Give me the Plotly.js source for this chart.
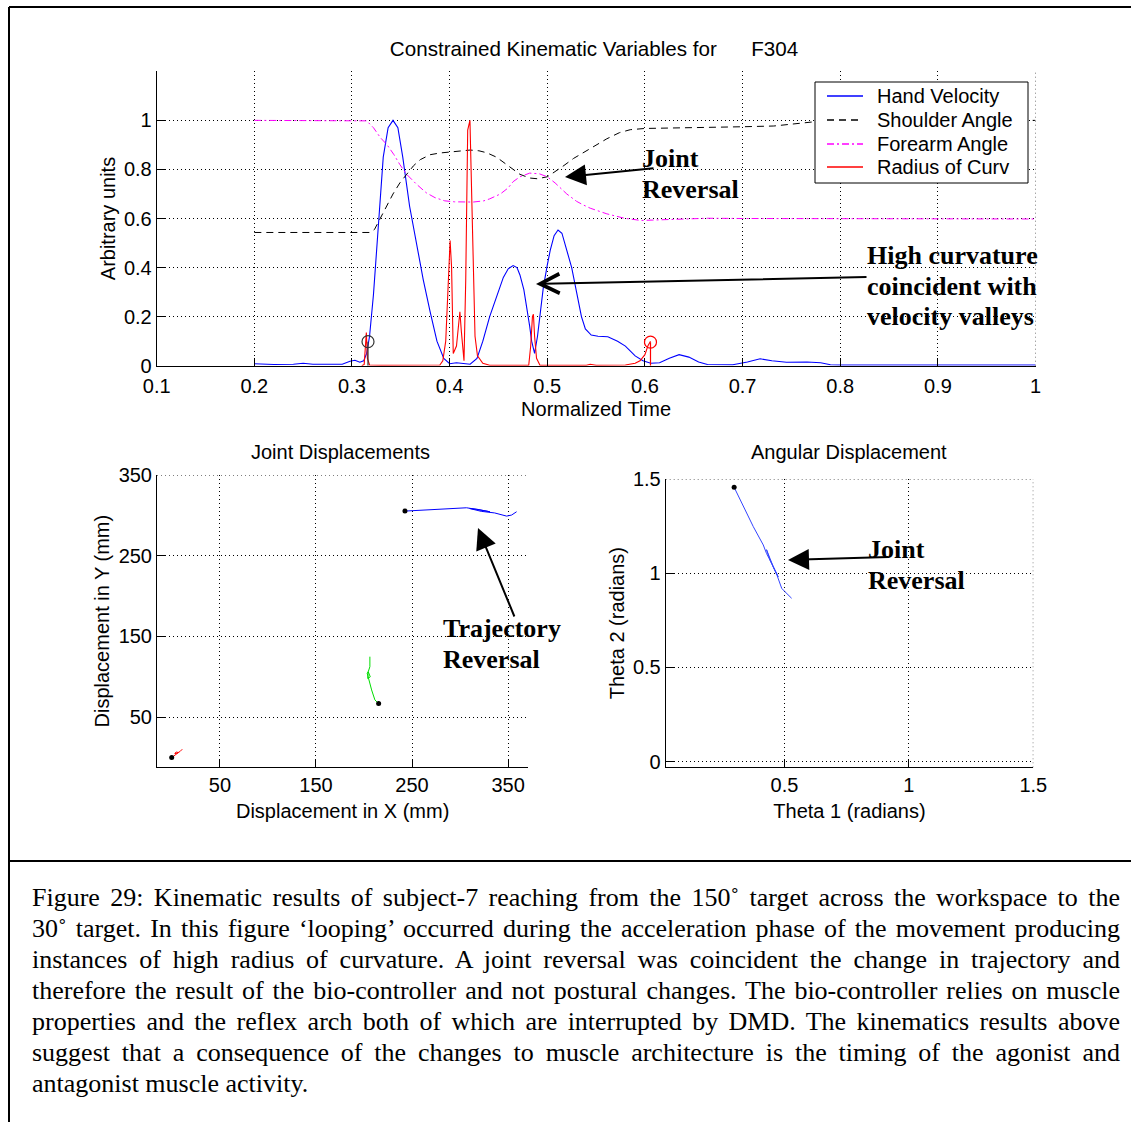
<!DOCTYPE html>
<html>
<head>
<meta charset="utf-8">
<script src="https://cdn.plot.ly/plotly-3.0.1.min.js"></script>
<style>
  html, body { margin: 0; padding: 0; background: #fff; }
  #wrap { position: relative; width: 1131px; height: 1122px; overflow: hidden; }
  #chart { position: absolute; left: 0; top: 0; width: 1131px; height: 1122px; }
  #caption { position: absolute; left: 32px; top: 882px; width: 1088px;
             font-family: "Liberation Serif", "Times New Roman", serif; font-size: 26px;
             line-height: 31px; color: #000; }
  #caption div { text-align: justify; text-align-last: justify; white-space: normal; }
  #caption div.last { text-align-last: left; }
</style>
</head>
<body>
<div id="wrap">
  <div id="chart"></div>
  <div id="caption"></div>
</div>
<script>
// ---------- Top panel: Constrained Kinematic Variables ----------
const velT = [0.2,0.22,0.24,0.25,0.26,0.28,0.29,0.298,0.303,0.308,0.312,0.315,0.318,0.322,0.327,0.332,0.337,0.342,0.347,0.352,0.359,0.366,0.373,0.38,0.387,0.394,0.4,0.407,0.414,0.421,0.428,0.434,0.441,0.448,0.455,0.46,0.465,0.469,0.472,0.476,0.479,0.482,0.484,0.487,0.49,0.493,0.496,0.5,0.503,0.507,0.511,0.515,0.518,0.522,0.525,0.53,0.535,0.539,0.545,0.552,0.562,0.572,0.58,0.59,0.598,0.606,0.615,0.625,0.635,0.645,0.655,0.664,0.69,0.705,0.718,0.73,0.745,0.766,0.78,0.79,0.8,0.9,1.0];
const velV = [0.008,0.005,0.006,0.01,0.006,0.004,0.006,0.018,0.022,0.014,0.02,0.05,0.12,0.29,0.55,0.85,0.97,1.0,0.97,0.85,0.65,0.5,0.35,0.22,0.1,0.03,0.008,0.012,0.01,0.006,0.03,0.1,0.2,0.28,0.36,0.395,0.408,0.4,0.37,0.31,0.24,0.16,0.1,0.05,0.12,0.22,0.32,0.41,0.47,0.53,0.553,0.54,0.5,0.45,0.4,0.3,0.2,0.15,0.125,0.12,0.118,0.1,0.08,0.04,0.02,0.01,0.012,0.03,0.045,0.035,0.015,0.005,0.004,0.015,0.028,0.02,0.014,0.015,0.012,0.004,0.003,0.003,0.003];

const shT = [0.2,0.318,0.323,0.329,0.335,0.342,0.349,0.356,0.363,0.37,0.38,0.39,0.4,0.41,0.421,0.43,0.438,0.448,0.458,0.465,0.472,0.482,0.49,0.5,0.506,0.515,0.527,0.544,0.561,0.574,0.585,0.6,0.63,0.664,0.7,0.732,0.75,0.766,0.78,0.8,1.0];
const shV = [0.543,0.543,0.555,0.6,0.65,0.7,0.745,0.78,0.815,0.84,0.86,0.867,0.87,0.875,0.879,0.876,0.868,0.85,0.82,0.8,0.78,0.765,0.762,0.77,0.785,0.81,0.845,0.885,0.925,0.95,0.962,0.967,0.97,0.973,0.974,0.977,0.985,0.993,0.997,1.0,1.0];

const faT = [0.2,0.31,0.315,0.322,0.329,0.336,0.343,0.349,0.356,0.366,0.376,0.385,0.395,0.405,0.424,0.435,0.441,0.452,0.46,0.465,0.472,0.482,0.492,0.5,0.508,0.52,0.53,0.537,0.544,0.561,0.579,0.596,0.613,0.63,0.664,0.7,0.8,0.9,1.0];
const faV = [1.0,1.0,0.998,0.97,0.93,0.9,0.86,0.82,0.78,0.74,0.705,0.685,0.672,0.668,0.667,0.672,0.68,0.7,0.725,0.75,0.77,0.785,0.782,0.77,0.745,0.7,0.67,0.655,0.642,0.619,0.601,0.592,0.594,0.597,0.601,0.6,0.6,0.6,0.598];

const rcT = [0.31,0.3125,0.3147,0.3158,0.318,0.33,0.39,0.393,0.396,0.3985,0.4005,0.402,0.403,0.4037,0.407,0.4095,0.4105,0.412,0.4147,0.4165,0.4185,0.4208,0.4225,0.424,0.426,0.4285,0.434,0.441,0.481,0.483,0.4848,0.4858,0.487,0.489,0.4925,0.54,0.544,0.55,0.58,0.59,0.595,0.6,0.603,0.6057];
const rcV = [0.0,0.005,0.135,0.03,0.003,0.002,0.003,0.02,0.1,0.3,0.51,0.4,0.15,0.05,0.08,0.2,0.22,0.14,0.02,0.35,0.96,1.0,0.7,0.35,0.12,0.04,0.01,0.002,0.002,0.08,0.2,0.21,0.12,0.03,0.002,0.002,0.006,0.002,0.003,0.01,0.02,0.045,0.08,0.1];

const stemT = [0.3164, 0.6057];
const stemV = [0.098, 0.096];
const stemColors = ['#333333', '#ff0000'];

const seriesNames = ['Hand Velocity', 'Shoulder Angle', 'Forearm Angle', 'Radius of Curv'];
const seriesColors = ['#0000ff', '#000000', '#ff00ff', '#ff0000'];
const seriesDash = ['solid', '7px,5px', '7px,3px,2px,3px', 'solid'];

// ---------- Bottom-left panel: Joint Displacements ----------
const blueX = [242.6,258.1,278.9,306.7,317.2,324.0,331.0,318.0,310.0,322.0,336.0,338.0,348.4,353.6,358.8];
const blueY = [305.3,306.4,307.6,309.4,307.4,305.7,304.5,307.5,308.5,305.0,303.0,302.5,299.1,300.4,304.5];
const greenX = [215.2,211.3,207.9,205.4,203.3,204.4,206.5,203.8,204.4,206.1,206.1];
const greenY = [66.9,71.5,83.8,96.2,104.5,106.4,100.0,98.0,106.4,112.6,125.0];
const redX = [-0.2,3.2,6.7,4.5,3.0,5.5,8.4,10.8];
const redY = [0.0,3.3,6.2,7.0,5.0,5.5,7.5,10.4];
const startX = [242.6, 215.2, -0.2];
const startY = [305.3, 66.9, 0.0];

// ---------- Bottom-right panel: Angular Displacement ----------
const theta1 = [0.298,0.335,0.375,0.415,0.428,0.449,0.475,0.455,0.428,0.442,0.47,0.489,0.502,0.529];
const theta2 = [1.456,1.353,1.247,1.15,1.105,1.052,0.981,1.035,1.125,1.07,0.99,0.92,0.902,0.867];
const thetaStart = [0.298, 1.456];

// ---------- Caption ----------
const captionLines = [
  'Figure 29: Kinematic results of subject-7 reaching from the 150˚ target across the workspace to the',
  '30˚ target. In this figure ‘looping’ occurred during the acceleration phase of the movement producing',
  'instances of high radius of curvature. A joint reversal was coincident the change in trajectory and',
  'therefore the result of the bio-controller and not postural changes. The bio-controller relies on muscle',
  'properties and the reflex arch both of which are interrupted by DMD. The kinematics results above',
  'suggest that a consequence of the changes to muscle architecture is the timing of the agonist and',
  'antagonist muscle activity.'
];

const W = 1131, H = 1122;
const px = v => v / W;
const py = v => 1 - v / H;
const SANS = 'Liberation Sans, Arial, sans-serif';
const SERIF = 'Liberation Serif, Times New Roman, serif';

const traces = [];
[[velT, velV], [shT, shV], [faT, faV], [rcT, rcV]].forEach((s, i) => {
  traces.push({x: s[0], y: s[1], name: seriesNames[i], mode: 'lines', showlegend: false,
               line: {color: seriesColors[i], width: i === 1 || i === 2 ? 1 : 1.1, dash: seriesDash[i]},
               xaxis: 'x', yaxis: 'y'});
});
stemT.forEach((t, i) => {
  traces.push({x: [t, t], y: [0, stemV[i]], mode: 'lines', line: {color: stemColors[i], width: 1.2},
               showlegend: false, hoverinfo: 'skip', xaxis: 'x', yaxis: 'y'});
  traces.push({x: [t], y: [stemV[i]], mode: 'markers',
               marker: {symbol: 'circle-open', size: 12, color: stemColors[i], line: {width: 1.2, color: stemColors[i]}},
               showlegend: false, xaxis: 'x', yaxis: 'y'});
});
traces.push(
  {x: blueX, y: blueY, mode: 'lines', line: {color: '#0000ff', width: 1}, showlegend: false, xaxis: 'x2', yaxis: 'y2'},
  {x: greenX, y: greenY, mode: 'lines', line: {color: '#00dd00', width: 1}, showlegend: false, xaxis: 'x2', yaxis: 'y2'},
  {x: redX, y: redY, mode: 'lines', line: {color: '#ff0000', width: 1}, showlegend: false, xaxis: 'x2', yaxis: 'y2'},
  {x: startX, y: startY, mode: 'markers', marker: {color: '#000', size: 5}, showlegend: false, xaxis: 'x2', yaxis: 'y2'},
  {x: theta1, y: theta2, mode: 'lines', line: {color: '#3344ff', width: 1}, showlegend: false, xaxis: 'x3', yaxis: 'y3'},
  {x: [thetaStart[0]], y: [thetaStart[1]], mode: 'markers', marker: {color: '#000', size: 5}, showlegend: false, xaxis: 'x3', yaxis: 'y3'}
);

const GRIDDASH = '1px,3px';
const axBase = {
  showgrid: true, gridcolor: '#000', gridwidth: 1, griddash: GRIDDASH,
  showline: true, linecolor: '#000', linewidth: 1, mirror: false,
  ticks: 'inside', ticklen: 8, tickcolor: '#000', tickwidth: 1,
  zeroline: false, tickfont: {family: SANS, size: 20, color: '#000'},
  tickmode: 'array', fixedrange: true
};
const titleFont = {family: SANS, size: 20, color: '#000'};

const layout = {
  width: W, height: H,
  margin: {l: 0, r: 0, t: 0, b: 0},
  paper_bgcolor: '#fff', plot_bgcolor: 'rgba(0,0,0,0)',
  font: {family: SANS, size: 20, color: '#000'},
  title: {text: 'Constrained Kinematic Variables for\u00a0\u00a0\u00a0\u00a0\u00a0\u00a0F304',
          x: px(594), xref: 'paper', xanchor: 'center', y: py(49), yref: 'paper', yanchor: 'middle',
          font: {family: SANS, size: 20.6, color: '#000'}},
  showlegend: false,
  xaxis: Object.assign({}, axBase, {domain: [px(156.7), px(1035.5)], range: [0.1, 1], anchor: 'y',
           tickvals: [0.1,0.2,0.3,0.4,0.5,0.6,0.7,0.8,0.9,1.0], ticktext: ['0.1','0.2','0.3','0.4','0.5','0.6','0.7','0.8','0.9','1'],
           ticklabelstandoff: 2,
           title: {text: 'Normalized Time', font: titleFont, standoff: 6}}),
  yaxis: Object.assign({}, axBase, {domain: [py(365.7), py(71.3)], range: [0, 1.2], anchor: 'x',
           tickvals: [0,0.2,0.4,0.6,0.8,1.0], ticktext: ['0','0.2','0.4','0.6','0.8','1'],
           title: {text: 'Arbitrary units', font: titleFont, standoff: 2}}),
  xaxis2: Object.assign({}, axBase, {domain: [px(157), px(528.3)], range: [-15.5, 371], anchor: 'y2',
           tickvals: [50,150,250,350], title: {text: 'Displacement in X (mm)', font: titleFont, standoff: 8}}),
  yaxis2: Object.assign({}, axBase, {domain: [py(767.3), py(475)], range: [-12, 350], anchor: 'x2',
           tickvals: [50,150,250,350], title: {text: 'Displacement in Y (mm)', font: titleFont, standoff: 3}}),
  xaxis3: Object.assign({}, axBase, {domain: [px(665.7), px(1033.3)], range: [0.023, 1.5], anchor: 'y3',
           tickvals: [0.5,1,1.5], ticktext: ['0.5','1','1.5'], title: {text: 'Theta 1 (radians)', font: titleFont, standoff: 8}}),
  yaxis3: Object.assign({}, axBase, {domain: [py(767.3), py(479)], range: [-0.03, 1.5], anchor: 'x3',
           tickvals: [0,0.5,1,1.5], ticktext: ['0','0.5','1','1.5'], title: {text: 'Theta 2 (radians)', font: titleFont, standoff: 2}}),
  shapes: [
    // page frame
    {type: 'line', xref: 'paper', yref: 'paper', x0: px(9), x1: px(9), y0: py(7), y1: 0, line: {color: '#000', width: 2}},
    {type: 'line', xref: 'paper', yref: 'paper', x0: px(9), x1: 1, y0: py(7), y1: py(7), line: {color: '#000', width: 2}},
    {type: 'line', xref: 'paper', yref: 'paper', x0: px(9), x1: 1, y0: py(861), y1: py(861), line: {color: '#000', width: 2}},
    // grid lines lying on the range edges
    {type: 'line', xref: 'x', yref: 'y domain', x0: 1, x1: 1, y0: 0, y1: 1, layer: 'below', line: {color: '#000', width: 1, dash: GRIDDASH}},
    {type: 'line', xref: 'x2 domain', yref: 'y2', x0: 0, x1: 1, y0: 350, y1: 350, layer: 'below', line: {color: '#000', width: 1, dash: GRIDDASH}},
    {type: 'line', xref: 'x3', yref: 'y3 domain', x0: 1.5, x1: 1.5, y0: 0, y1: 1, layer: 'below', line: {color: '#000', width: 1, dash: GRIDDASH}},
    {type: 'line', xref: 'x3 domain', yref: 'y3', x0: 0, x1: 1, y0: 1.5, y1: 1.5, layer: 'below', line: {color: '#000', width: 1, dash: GRIDDASH}},
    // legend box
    {type: 'rect', xref: 'paper', yref: 'paper', x0: px(815), x1: px(1028), y0: py(82), y1: py(183),
     fillcolor: '#fff', line: {color: '#000', width: 1}}
  ],
  annotations: []
};

const A = layout.annotations;
// legend entries (drawn from the series arrays)
const legendRows = [96, 120, 144, 167];
seriesNames.forEach((n, i) => {
  const sh = {type: 'line', xref: 'paper', yref: 'paper', x0: px(827), x1: px(863), y0: py(legendRows[i]), y1: py(legendRows[i]),
              line: {color: seriesColors[i], width: 1.5}};
  if (seriesDash[i] !== 'solid') sh.line.dash = seriesDash[i];
  layout.shapes.push(sh);
  A.push({text: n, xref: 'paper', yref: 'paper', x: px(875), y: py(legendRows[i]), xanchor: 'left', yanchor: 'middle',
          showarrow: false, font: {family: SANS, size: 20, color: '#000'}});
});
// subplot titles
A.push({text: 'Joint Displacements', xref: 'paper', yref: 'paper', x: px(340), y: py(452), xanchor: 'center', yanchor: 'middle', showarrow: false, font: titleFont});
A.push({text: 'Angular Displacement', xref: 'paper', yref: 'paper', x: px(849), y: py(452), xanchor: 'center', yanchor: 'middle', showarrow: false, font: titleFont});

// bold serif callouts
const callFont = {family: SERIF, size: 26, color: '#000', weight: 'bold'};
function label(t, x, y) {
  A.push({text: '<b>' + t + '</b>', xref: 'paper', yref: 'paper', x: px(x), y: py(y), xanchor: 'left', yanchor: 'middle',
          showarrow: false, font: callFont});
}
function arrow(tipX, tipY, tailX, tailY, head, size, width) {
  A.push({text: '', xref: 'paper', yref: 'paper', x: px(tipX), y: py(tipY), ax: tailX - tipX, ay: tailY - tipY,
          axref: 'pixel', ayref: 'pixel', showarrow: true, arrowhead: head, arrowsize: size, arrowwidth: width,
          arrowcolor: '#000', standoff: 0});
}
label('Joint', 640, 158); label('Reversal', 640, 189);
arrow(565, 177, 655, 168, 2, 2.1, 2);
label('High curvature', 865, 255); label('coincident with', 865, 286); label('velocity valleys', 865, 317);
arrow(536, 284, 868, 277, 5, 1.9, 2);
label('Trajectory', 441, 628); label('Reversal', 441, 659);
arrow(478, 528, 515, 618, 2, 2.1, 2);
label('Joint', 866, 549); label('Reversal', 866, 580);
arrow(788, 560, 890, 557, 2, 2.1, 2);

Plotly.newPlot('chart', traces, layout, {displayModeBar: false, staticPlot: true});

const cap = document.getElementById('caption');
captionLines.forEach((t, i) => {
  const d = document.createElement('div');
  d.textContent = t;
  if (i === captionLines.length - 1) d.className = 'last';
  cap.appendChild(d);
});
</script>
</body>
</html>
